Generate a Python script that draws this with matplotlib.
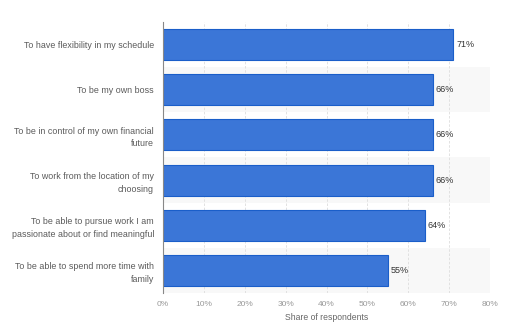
import matplotlib
matplotlib.use("Agg")
import matplotlib.pyplot as plt

categories = [
    "To have flexibility in my schedule",
    "To be my own boss",
    "To be in control of my own financial\nfuture",
    "To work from the location of my\nchoosing",
    "To be able to pursue work I am\npassionate about or find meaningful",
    "To be able to spend more time with\nfamily",
]
values = [71, 66, 66, 66, 64, 55]
xticks = [0, 10, 20, 30, 40, 50, 60, 70, 80]
xlabel = "Share of respondents"

plt.rcParams["font.family"] = ["Liberation Sans", "DejaVu Sans"]

fig = plt.figure(figsize=(5.12, 3.32), dpi=100)
ax = fig.add_axes([163 / 512, 1 - 293 / 332, 327 / 512, 271 / 332])

n = len(categories)
ypos = list(range(n))

# alternating row shading
for i in ypos:
    if i % 2 == 1:
        ax.axhspan(i - 0.5, i + 0.5, color="#f8f8f8", zorder=0, lw=0)

ax.barh(ypos, values, height=0.69, color="#3b76d7", edgecolor="#1a5ec9",
        linewidth=0.8, zorder=3)

for y, v in zip(ypos, values):
    ax.text(v + 0.7, y, f"{v}%", va="center", ha="left", fontsize=6.5,
            color="#333333", zorder=4)

ax.set_xlim(0, 80)
ax.set_ylim(n - 0.5, -0.5)
ax.set_yticks(ypos)
ax.set_yticklabels(categories, fontsize=6.4, color="#5a5a5a", linespacing=1.5)
ax.set_xticks(xticks)
ax.set_xticklabels([f"{t}%" for t in xticks], fontsize=6.0, color="#999999")
ax.set_xlabel(xlabel, fontsize=6.2, color="#666666", labelpad=3)

ax.tick_params(axis="both", length=0)
ax.tick_params(axis="y", pad=6.5)
ax.tick_params(axis="x", pad=6)

ax.grid(axis="x", color="#dddddd", linestyle=(0, (3, 2)), linewidth=0.6, zorder=1)
ax.set_axisbelow(True)
for s in ["top", "right", "bottom"]:
    ax.spines[s].set_visible(False)
ax.spines["left"].set_color("#888888")
ax.spines["left"].set_linewidth(0.8)
ax.spines["left"].set_zorder(5)

fig.savefig("out.png", dpi=100)
